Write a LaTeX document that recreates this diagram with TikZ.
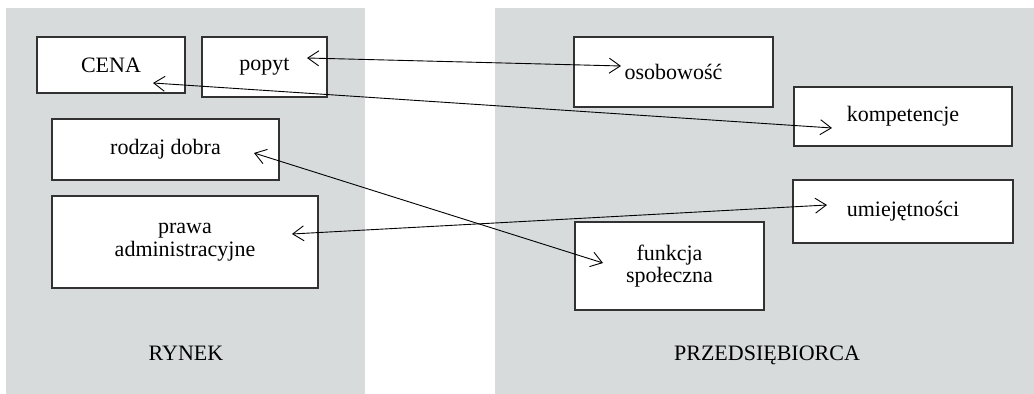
\documentclass[tikz,border=0pt]{standalone}
\usepackage{fontspec}
\setmainfont{Liberation Serif}
\usetikzlibrary{arrows.meta}
\definecolor{panelgray}{RGB}{215,219,219}
\definecolor{boxline}{RGB}{50,50,50}
\tikzset{
  panel/.style={fill=panelgray, draw=none},
  box/.style={draw=boxline, line width=0.55pt, fill=white, align=center, inner sep=0pt,
    font=\fontsize{11}{11.2}\selectfont},
  lbl/.style={font=\fontsize{11}{13}\selectfont, inner sep=0pt},
  link/.style={draw=black, line width=0.45pt,
    {Straight Barb[length=5.5pt,width=7.5pt,line width=0.45pt]}-{Straight Barb[length=5.5pt,width=7.5pt,line width=0.45pt]}}
}
\begin{document}
\begin{tikzpicture}[x=0.5pt,y=-0.5pt]
\useasboundingbox (0,0) rectangle (1034,394);
% panels
\fill[panel] (6,8) rectangle (365,394);
\fill[panel] (495,8) rectangle (1034,394);
% left boxes
\node[box, minimum width=74pt, minimum height=28pt] (cena) at (111,65) {CENA};
\node[box, minimum width=62.5pt, minimum height=30pt] (popyt) at (264.5,67) {popyt};
\node[box, minimum width=113.5pt, minimum height=30.5pt] (rodzaj) at (165.5,149.5) {rodzaj dobra};
\node[box, minimum width=133pt, minimum height=46pt] (prawa) at (185,242) {prawa\\administracyjne};
% right boxes
\node[box, minimum width=99.5pt, minimum height=35pt] (osob) at (673.5,72) {osobowość};
\node[box, minimum width=109pt, minimum height=29.5pt] (komp) at (903,116.5) {kompetencje};
\node[box, minimum width=110pt, minimum height=31.5pt] (umie) at (903,211.5) {umiejętności};
\node[box, minimum width=94.5pt, minimum height=44pt] (funk) at (669.5,266) {funkcja\\społeczna};
% panel labels
\node[lbl] (rynek) at (186,353) {RYNEK};
\node[lbl] (przed) at (767,355) {PRZEDSIĘBIORCA};
% arrow end points inside boxes
\coordinate (popytT) at (307,58);
\coordinate (osobT) at (621,66);
\coordinate (cenaT) at (153,83);
\coordinate (kompT) at (832,128);
\coordinate (rodzajT) at (254,153);
\coordinate (funkT) at (603,263);
\coordinate (prawaT) at (292,234);
\coordinate (umieT) at (827,205);
% connectors
\draw[link] (popytT) -- (osobT);
\draw[link] (cenaT) -- (kompT);
\draw[link] (rodzajT) -- (funkT);
\draw[link] (prawaT) -- (umieT);
\end{tikzpicture}
\end{document}
